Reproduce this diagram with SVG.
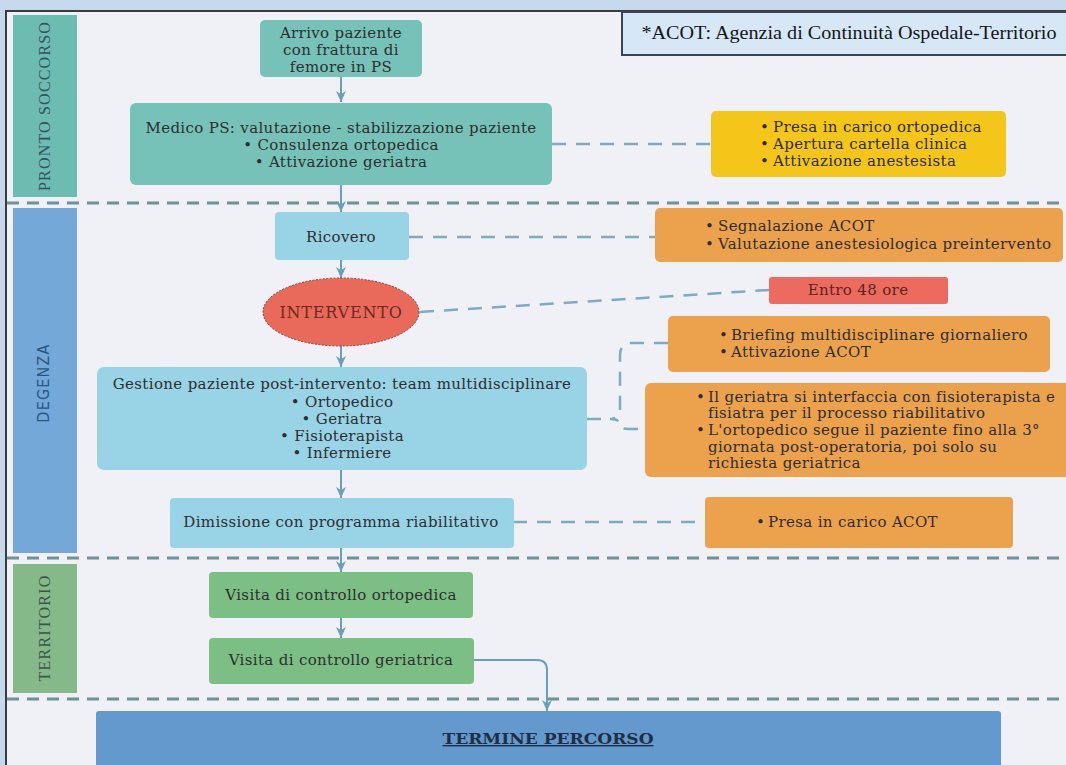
<svg xmlns="http://www.w3.org/2000/svg" width="1066" height="765" viewBox="0 0 1066 765">
<defs>
<marker id="ah" viewBox="0 0 10 10" refX="10" refY="5" markerWidth="11" markerHeight="11" markerUnits="userSpaceOnUse" orient="auto"><path d="M0,0.5 L10,5 L0,9.5 L3,5 Z" fill="#6a9fb5"/></marker>
</defs>
<style>
.t{font-family:"DejaVu Serif",serif;font-size:15px;letter-spacing:0.35px;fill:#2e2e2e}
.m{text-anchor:middle}
.lane{font-family:"Liberation Serif",serif;font-size:16px;text-anchor:middle;letter-spacing:1.2px}
.flow{fill:none;stroke:#6d9fb4;stroke-width:2}
.dash{fill:none;stroke:#7eabc0;stroke-width:2.5;stroke-dasharray:14 10}
.sep{stroke:#6f9197;stroke-width:3;stroke-dasharray:12 8}
.teal{fill:#76c2b8}
.lblue{fill:#98d3e6}
.orange{fill:#eca24d}
.green{fill:#7bbf85}
</style>
<rect x="0" y="0" width="1066" height="765" fill="#c6d9ec"/>
<rect x="6" y="11" width="1075" height="770" fill="#eff1f6" stroke="#3c3c3c" stroke-width="2"/>

<g id="legend">
<rect x="622" y="12" width="460" height="43" fill="#d6e8f6" stroke="#3a4656" stroke-width="2"/>
<text x="849" y="39" font-family="Liberation Serif, serif" font-size="19.5" fill="#151515" text-anchor="middle" textLength="415" lengthAdjust="spacingAndGlyphs">*ACOT: Agenzia di Continuità Ospedale-Territorio</text>
</g>

<g id="lanes">
<rect x="13" y="15" width="64" height="182" fill="#6cbcb1"/>
<text class="lane" transform="translate(50,106) rotate(-90)" fill="#34535f">PRONTO SOCCORSO</text>
<rect x="13" y="208" width="64" height="345" fill="#73a8d9"/>
<text transform="translate(49,383) rotate(-90)" font-family="DejaVu Sans Condensed, DejaVu Sans, sans-serif" font-size="16" letter-spacing="1.2" text-anchor="middle" fill="#2a5782">DEGENZA</text>
<rect x="13" y="564" width="64" height="129" fill="#86b98a"/>
<text class="lane" transform="translate(50,628) rotate(-90)" fill="#3a5648">TERRITORIO</text>
<line class="sep" x1="7" y1="203" x2="1066" y2="203"/>
<line class="sep" x1="7" y1="558" x2="1066" y2="558"/>
<line class="sep" x1="7" y1="699" x2="1066" y2="699"/>
</g>

<g id="connectors">
<line class="flow" x1="341" y1="77" x2="341" y2="102" marker-end="url(#ah)"/>
<line class="flow" x1="341" y1="185" x2="341" y2="212" marker-end="url(#ah)"/>
<line class="flow" x1="341" y1="260" x2="341" y2="278" marker-end="url(#ah)"/>
<line class="flow" x1="341" y1="346" x2="341" y2="367" marker-end="url(#ah)"/>
<line class="flow" x1="341" y1="470" x2="341" y2="498" marker-end="url(#ah)"/>
<line class="flow" x1="341" y1="548" x2="341" y2="572" marker-end="url(#ah)"/>
<line class="flow" x1="341" y1="618" x2="341" y2="638" marker-end="url(#ah)"/>
<path class="flow" d="M474,660 H537 Q547,660 547,670 V711" marker-end="url(#ah)"/>
<line class="dash" x1="552" y1="144" x2="711" y2="144"/>
<line class="dash" x1="409" y1="237" x2="655" y2="237"/>
<line class="dash" x1="420" y1="312" x2="769" y2="290"/>
<line class="dash" x1="513" y1="522" x2="705" y2="522"/>
<line class="dash" x1="587" y1="419" x2="610" y2="419" stroke-dasharray="10 6"/>
<path class="dash" d="M668,343 H632 Q620,343 620,355 V408 Q620,419 610,419 Q620,419 620,425 Q620,429 628,429 H645" stroke-dasharray="10 7"/>
</g>

<g id="arrivo">
<rect class="teal" x="260" y="20" width="162" height="57" rx="5"/>
<text class="t m" x="341" y="38">Arrivo paziente</text>
<text class="t m" x="341" y="55">con frattura di</text>
<text class="t m" x="341" y="72">femore in PS</text>
</g>

<g id="medico">
<rect class="teal" x="130" y="103" width="422" height="82" rx="6"/>
<text class="t m" x="341" y="133">Medico PS: valutazione - stabilizzazione paziente</text>
<text class="t m" x="341" y="150">• Consulenza ortopedica</text>
<text class="t m" x="341" y="167">• Attivazione geriatra</text>
</g>

<g id="ps-tasks">
<rect x="711" y="111" width="295" height="66" rx="5" fill="#f4c61a"/>
<text class="t" y="132"><tspan x="760">•</tspan><tspan x="773">Presa in carico ortopedica</tspan></text>
<text class="t" y="149"><tspan x="760">•</tspan><tspan x="773">Apertura cartella clinica</tspan></text>
<text class="t" y="166"><tspan x="760">•</tspan><tspan x="773">Attivazione anestesista</tspan></text>
</g>

<g id="ricovero">
<rect class="lblue" x="275" y="212" width="134" height="48" rx="4"/>
<text class="t m" x="341" y="242">Ricovero</text>
</g>

<g id="ricovero-tasks">
<rect class="orange" x="655" y="208" width="408" height="54" rx="5"/>
<text class="t" y="231"><tspan x="705">•</tspan><tspan x="718">Segnalazione ACOT</tspan></text>
<text class="t" y="249"><tspan x="705">•</tspan><tspan x="718">Valutazione anestesiologica preintervento</tspan></text>
</g>

<g id="intervento">
<ellipse cx="341" cy="312" rx="78" ry="34" fill="#e96a5a" stroke="#8a3a30" stroke-width="1" stroke-dasharray="2 1.5"/>
<text x="341" y="318" font-family="DejaVu Serif, serif" font-size="16" letter-spacing="0.8" text-anchor="middle" fill="#6e2920">INTERVENTO</text>
</g>

<g id="entro">
<rect x="769" y="277" width="179" height="27" rx="3" fill="#ec6b5e"/>
<text class="t m" x="858" y="295" style="fill:#552620">Entro 48 ore</text>
</g>

<g id="briefing">
<rect class="orange" x="668" y="316" width="382" height="56" rx="5"/>
<text class="t" y="340"><tspan x="719">•</tspan><tspan x="731">Briefing multidisciplinare giornaliero</tspan></text>
<text class="t" y="357"><tspan x="719">•</tspan><tspan x="731">Attivazione ACOT</tspan></text>
</g>

<g id="gestione">
<rect class="lblue" x="97" y="367" width="490" height="103" rx="7"/>
<text class="t m" x="342" y="389">Gestione paziente post-intervento: team multidisciplinare</text>
<text class="t m" x="342" y="407">• Ortopedico</text>
<text class="t m" x="342" y="424">• Geriatra</text>
<text class="t m" x="342" y="441">• Fisioterapista</text>
<text class="t m" x="342" y="458">• Infermiere</text>
</g>

<g id="team-notes">
<rect class="orange" x="645" y="383" width="430" height="94" rx="6"/>
<text class="t" y="402"><tspan x="696">•</tspan><tspan x="708">Il geriatra si interfaccia con fisioterapista e</tspan></text>
<text class="t" x="708" y="418">fisiatra per il processo riabilitativo</text>
<text class="t" y="435"><tspan x="696">•</tspan><tspan x="708">L'ortopedico segue il paziente fino alla 3°</tspan></text>
<text class="t" x="708" y="452">giornata post-operatoria, poi solo su</text>
<text class="t" x="708" y="468">richiesta geriatrica</text>
</g>

<g id="dimissione">
<rect class="lblue" x="170" y="498" width="344" height="50" rx="4"/>
<text class="t m" x="341" y="527">Dimissione con programma riabilitativo</text>
</g>

<g id="acot">
<rect class="orange" x="705" y="497" width="308" height="51" rx="4"/>
<text class="t" y="527"><tspan x="756">•</tspan><tspan x="768">Presa in carico ACOT</tspan></text>
</g>

<g id="visita-ortopedica">
<rect class="green" x="209" y="572" width="264" height="46" rx="4"/>
<text class="t m" x="341" y="600">Visita di controllo ortopedica</text>
</g>

<g id="visita-geriatrica">
<rect class="green" x="209" y="638" width="265" height="46" rx="4"/>
<text class="t m" x="341" y="665">Visita di controllo geriatrica</text>
</g>

<g id="termine">
<rect x="96" y="711" width="905" height="70" rx="3" fill="#6399cc"/>
<text x="548" y="744" font-family="DejaVu Serif, serif" font-size="14" font-weight="bold" text-anchor="middle" text-decoration="underline" fill="#1e2f45" textLength="211" lengthAdjust="spacingAndGlyphs">TERMINE PERCORSO</text>
</g>
</svg>
